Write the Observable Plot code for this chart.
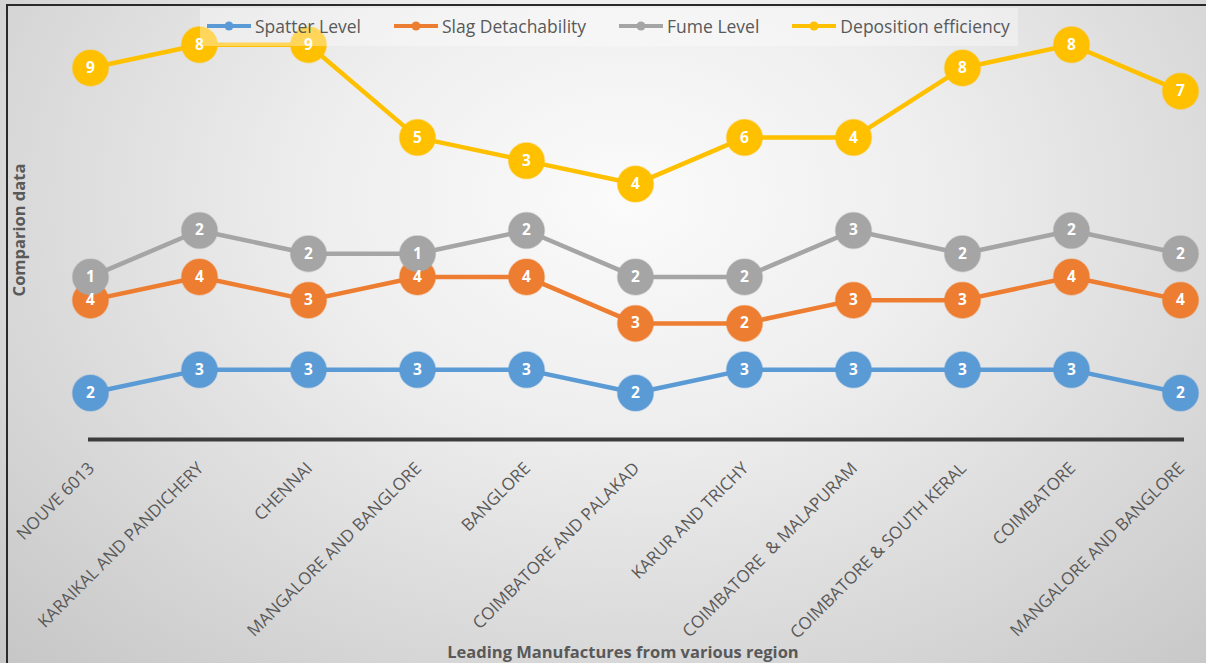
<!DOCTYPE html>
<html>
<head>
<meta charset="utf-8">
<script src="https://cdn.jsdelivr.net/npm/d3@7"></script>
<script src="https://cdn.jsdelivr.net/npm/@observablehq/plot@0.6"></script>
<style>
  html, body { margin: 0; padding: 0; overflow: hidden; }
  #chart {
    position: relative; width: 1206px; height: 663px; overflow: hidden;
    background: radial-gradient(ellipse farthest-corner at 52% 30%, #fbfbfb 0%, #eeeeee 35%, #c6c6c6 100%);
    font-family: "Open Sans", sans-serif;
  }
  .edge { position: absolute; background: #2a2a2a; pointer-events: none; }
  #edge-top { left: 6px; top: 4px; width: 1200px; height: 2px; }
  #edge-left { left: 6px; top: 4px; width: 2px; height: 659px; }
  #plot { position: absolute; left: 0; top: 0; }
  #legend {
    position: absolute; left: 200px; top: 8px; display: flex; gap: 33px;
    padding: 6px 8px 8px 7px; background: rgba(255, 255, 255, 0.35);
  }
  .item { display: flex; align-items: center; gap: 4px; color: #595959; font-size: 17.5px; }
  .ytitle {
    position: absolute; left: 18px; top: 230px; transform: translate(-50%, -50%) rotate(-90deg);
    font-weight: bold; font-size: 16.5px; color: #595959; white-space: nowrap;
  }
  .xtitle {
    position: absolute; left: 623px; top: 651px; transform: translate(-50%, -50%);
    font-weight: bold; font-size: 16.5px; color: #595959; white-space: nowrap;
  }
</style>
</head>
<body>
<div id="chart">
  <div id="plot"></div>
  <div id="legend"></div>
  <div class="ytitle">Comparion data</div>
  <div class="xtitle">Leading Manufactures from various region</div>
  <div class="edge" id="edge-top"></div>
  <div class="edge" id="edge-left"></div>
</div>
<script>
// Regions (manufacturers) along the horizontal axis
const categories = [
  "NOUVE 6013", "KARAIKAL AND PANDICHERY", "CHENNAI", "MANGALORE AND BANGLORE",
  "BANGLORE", "COIMBATORE AND PALAKAD", "KARUR AND TRICHY", "COIMBATORE  & MALAPURAM",
  "COIMBATORE & SOUTH KERAL", "COIMBATORE", "MANGALORE AND BANGLORE"
];

// Series, stacked bottom to top
const seriesNames = ["Spatter Level", "Slag Detachability", "Fume Level", "Deposition efficiency"];
const seriesColors = ["#5B9BD5", "#ED7D31", "#A5A5A5", "#FFC000"];

const spatterLevel = [2, 3, 3, 3, 3, 2, 3, 3, 3, 3, 2];
const slagDetachability = [4, 4, 3, 4, 4, 3, 2, 3, 3, 4, 4];
const fumeLevel = [1, 2, 2, 1, 2, 2, 2, 3, 2, 2, 2];
const depositionEfficiency = [9, 8, 9, 5, 3, 4, 6, 4, 8, 8, 7];

const seriesValues = [spatterLevel, slagDetachability, fumeLevel, depositionEfficiency];

// Long table: one row per region and series
const rows = seriesNames.flatMap((s, k) =>
  seriesValues[k].map((v, i) => ({i, series: s, value: v}))
);

const stackOpts = {x: "i", y: "value", z: "series"};

const plot = Plot.plot({
  width: 1206,
  height: 663,
  marginLeft: 89,
  marginRight: 25,
  marginTop: 21,
  marginBottom: 224,
  style: {background: "transparent", overflow: "visible"},
  x: {type: "point", domain: d3.range(categories.length), padding: 0, axis: null},
  y: {domain: [0, 18], axis: null},
  color: {domain: seriesNames, range: seriesColors},
  marks: [
    Plot.ruleY([0], {stroke: "#3c3c3c", strokeWidth: 4, insetLeft: -1, insetRight: -3}),
    Plot.lineY(rows, Plot.stackY2({...stackOpts, stroke: "series", strokeWidth: 4.5, strokeLinejoin: "round"})),
    Plot.dot(rows, Plot.stackY2({...stackOpts, fill: "series", r: 18, stroke: "series", strokeOpacity: 0.35, strokeWidth: 1.5})),
    Plot.text(rows, Plot.stackY2({
      ...stackOpts, text: "value", fill: "white", fontWeight: "bold", fontSize: 15.5,
      fontFamily: "Open Sans"
    })),
    // Rotated category labels under the axis line
    Plot.text(categories, {
      x: (d, i) => i, frameAnchor: "bottom", text: d => d,
      rotate: -45, textAnchor: "end", lineAnchor: "middle",
      dx: 1, dy: 26, fontSize: 17, fill: "#595959", fontFamily: "Open Sans"
    })
  ]
});
plot.querySelectorAll("text").forEach(t => t.setAttribute("xml:space", "preserve"));
document.getElementById("plot").append(plot);

// Legend
const legend = document.getElementById("legend");
seriesNames.forEach((s, k) => {
  const item = document.createElement("div");
  item.className = "item";
  item.innerHTML =
    `<svg width="44" height="10"><line x1="0" y1="5" x2="44" y2="5" stroke="${seriesColors[k]}" stroke-width="4"/>` +
    `<circle cx="22" cy="5" r="4.5" fill="${seriesColors[k]}"/></svg><span>${s}</span>`;
  legend.append(item);
});
</script>
</body>
</html>
